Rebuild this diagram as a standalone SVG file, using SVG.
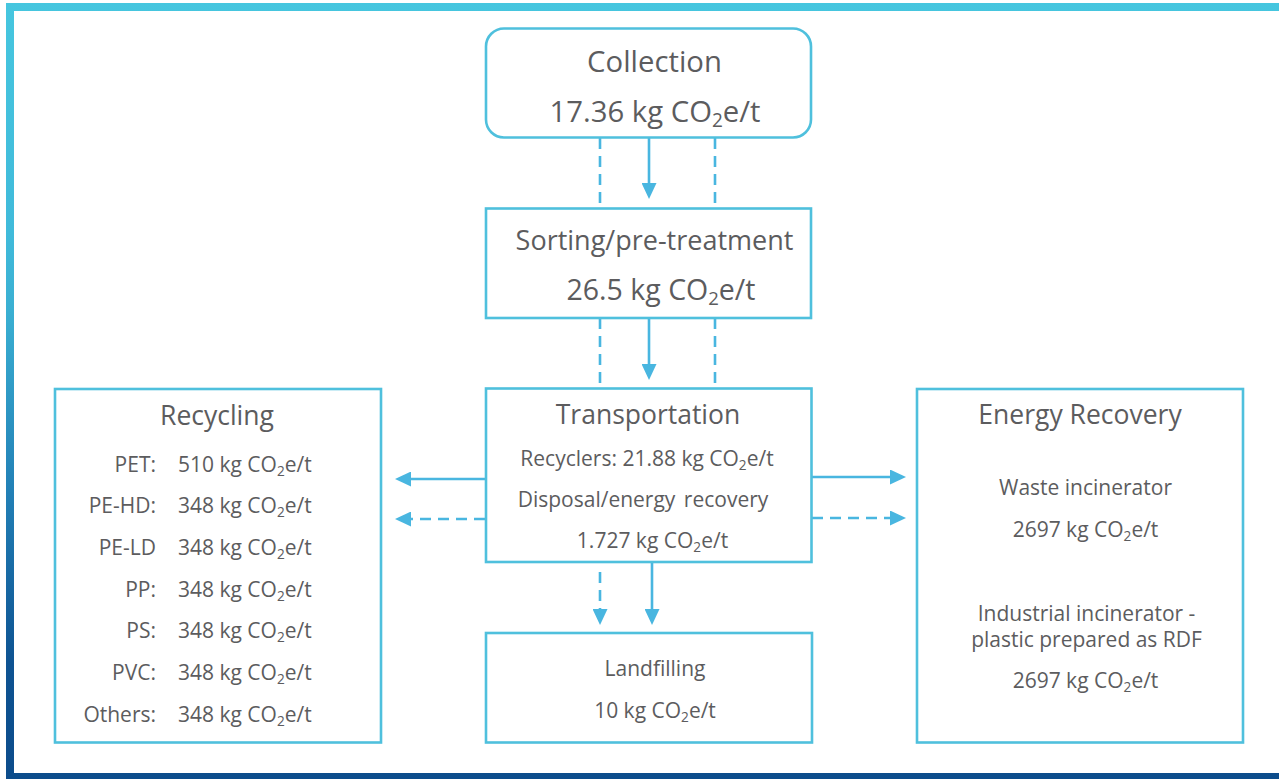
<svg xmlns="http://www.w3.org/2000/svg" width="1279" height="779" viewBox="0 0 1279 779">
<style>
text{font-family:"Open Sans","Noto Sans","DejaVu Sans",sans-serif;fill:#5c5c5e;}
.big{font-size:29.3px;text-anchor:middle;}
.ttl{font-size:26.5px;text-anchor:middle;}
.sm{font-size:21px;text-anchor:middle;}
.lbl{font-size:21px;text-anchor:end;}
.val{font-size:21px;text-anchor:start;}
.sub{font-size:65%;}
.box{fill:#fff;stroke:#4fc0dd;stroke-width:2.6;}
.ln{stroke:#49b6e0;stroke-width:2.6;fill:none;}
.dash{stroke-dasharray:11 7;}
</style>
<defs>
<linearGradient id="frame" gradientUnits="userSpaceOnUse" x1="0" y1="0" x2="0" y2="779">
<stop offset="0" stop-color="#46c6df"/>
<stop offset="0.3" stop-color="#40bada"/>
<stop offset="0.4" stop-color="#3aafd2"/>
<stop offset="0.63" stop-color="#2280b6"/>
<stop offset="0.85" stop-color="#0e5392"/>
<stop offset="1" stop-color="#0c4c8b"/>
</linearGradient>
<marker id="ah" viewBox="0 0 16 15" markerWidth="16" markerHeight="15" refX="0" refY="7.5" orient="auto" markerUnits="userSpaceOnUse">
<path d="M0,0 L16,7.5 L0,15 z" fill="#49b6e0"/>
</marker>
</defs>
<rect x="0" y="0" width="1279" height="779" fill="#fff"/>
<rect x="10" y="7" width="1300" height="770" fill="none" stroke="url(#frame)" stroke-width="8"/>

<g id="connectors">
<line class="ln" x1="649" y1="138" x2="649" y2="183" marker-end="url(#ah)"/>
<line class="ln dash" x1="600" y1="138" x2="600" y2="208"/>
<line class="ln dash" x1="715" y1="138" x2="715" y2="208"/>
<line class="ln" x1="649" y1="318" x2="649" y2="364" marker-end="url(#ah)"/>
<line class="ln dash" x1="600" y1="318" x2="600" y2="388"/>
<line class="ln dash" x1="715" y1="318" x2="715" y2="388"/>
<line class="ln" x1="485" y1="479" x2="411" y2="479" marker-end="url(#ah)"/>
<line class="ln dash" x1="485" y1="519" x2="411" y2="519" marker-end="url(#ah)"/>
<line class="ln" x1="812" y1="477" x2="890" y2="477" marker-end="url(#ah)"/>
<line class="ln dash" x1="812" y1="518" x2="890" y2="518" marker-end="url(#ah)"/>
<line class="ln" x1="652" y1="562" x2="652" y2="609" marker-end="url(#ah)"/>
<line class="ln dash" x1="600" y1="572" x2="600" y2="609" marker-end="url(#ah)"/>
</g>

<g id="collection">
<rect class="box" x="486" y="28.5" width="325" height="109" rx="18"/>
<text class="big" x="654.5" y="72">Collection</text>
<text class="big" x="655" y="122">17.36 kg CO<tspan class="sub" dy="5">2</tspan><tspan dy="-5">e/t</tspan></text>
</g>

<g id="sorting">
<rect class="box" x="486" y="208.5" width="325" height="109.5"/>
<text class="ttl" x="654.5" y="250" style="font-size:27px">Sorting/pre-treatment</text>
<text class="big" x="661" y="300" style="font-size:28.5px">26.5 kg CO<tspan class="sub" dy="5">2</tspan><tspan dy="-5">e/t</tspan></text>
</g>

<g id="transportation">
<rect class="box" x="486" y="388.5" width="325.5" height="173.5"/>
<text class="ttl" x="648" y="424">Transportation</text>
<text class="sm" x="647" y="466">Recyclers: 21.88 kg CO<tspan class="sub" dy="4">2</tspan><tspan dy="-4">e/t</tspan></text>
<text class="sm" x="643" y="507" style="word-spacing:3px">Disposal/energy recovery</text>
<text class="sm" x="652.5" y="548">1.727 kg CO<tspan class="sub" dy="4">2</tspan><tspan dy="-4">e/t</tspan></text>
</g>

<g id="recycling">
<rect class="box" x="55" y="389" width="326" height="353.5"/>
<text class="ttl" x="217" y="425">Recycling</text>
<text class="lbl" x="156" y="471.5">PET:</text>
<text class="val" x="178" y="471.5">510 kg CO<tspan class="sub" dy="4">2</tspan><tspan dy="-4">e/t</tspan></text>
<text class="lbl" x="156" y="513">PE-HD:</text>
<text class="val" x="178" y="513">348 kg CO<tspan class="sub" dy="4">2</tspan><tspan dy="-4">e/t</tspan></text>
<text class="lbl" x="156" y="555">PE-LD</text>
<text class="val" x="178" y="555">348 kg CO<tspan class="sub" dy="4">2</tspan><tspan dy="-4">e/t</tspan></text>
<text class="lbl" x="156" y="596.5">PP:</text>
<text class="val" x="178" y="596.5">348 kg CO<tspan class="sub" dy="4">2</tspan><tspan dy="-4">e/t</tspan></text>
<text class="lbl" x="156" y="638">PS:</text>
<text class="val" x="178" y="638">348 kg CO<tspan class="sub" dy="4">2</tspan><tspan dy="-4">e/t</tspan></text>
<text class="lbl" x="156" y="680">PVC:</text>
<text class="val" x="178" y="680">348 kg CO<tspan class="sub" dy="4">2</tspan><tspan dy="-4">e/t</tspan></text>
<text class="lbl" x="156" y="721.5">Others:</text>
<text class="val" x="178" y="721.5">348 kg CO<tspan class="sub" dy="4">2</tspan><tspan dy="-4">e/t</tspan></text>
</g>

<g id="energy-recovery">
<rect class="box" x="917" y="389" width="326" height="353.5"/>
<text class="ttl" x="1080" y="424">Energy Recovery</text>
<text class="sm" x="1085.5" y="495">Waste incinerator</text>
<text class="sm" x="1085.5" y="537">2697 kg CO<tspan class="sub" dy="4">2</tspan><tspan dy="-4">e/t</tspan></text>
<text class="sm" x="1086.5" y="621">Industrial incinerator -</text>
<text class="sm" x="1086.5" y="647">plastic prepared as RDF</text>
<text class="sm" x="1085.5" y="688">2697 kg CO<tspan class="sub" dy="4">2</tspan><tspan dy="-4">e/t</tspan></text>
</g>

<g id="landfilling">
<rect class="box" x="486" y="633" width="326" height="109.5"/>
<text class="sm" x="655" y="676">Landfilling</text>
<text class="sm" x="655" y="718">10 kg CO<tspan class="sub" dy="4">2</tspan><tspan dy="-4">e/t</tspan></text>
</g>
</svg>
